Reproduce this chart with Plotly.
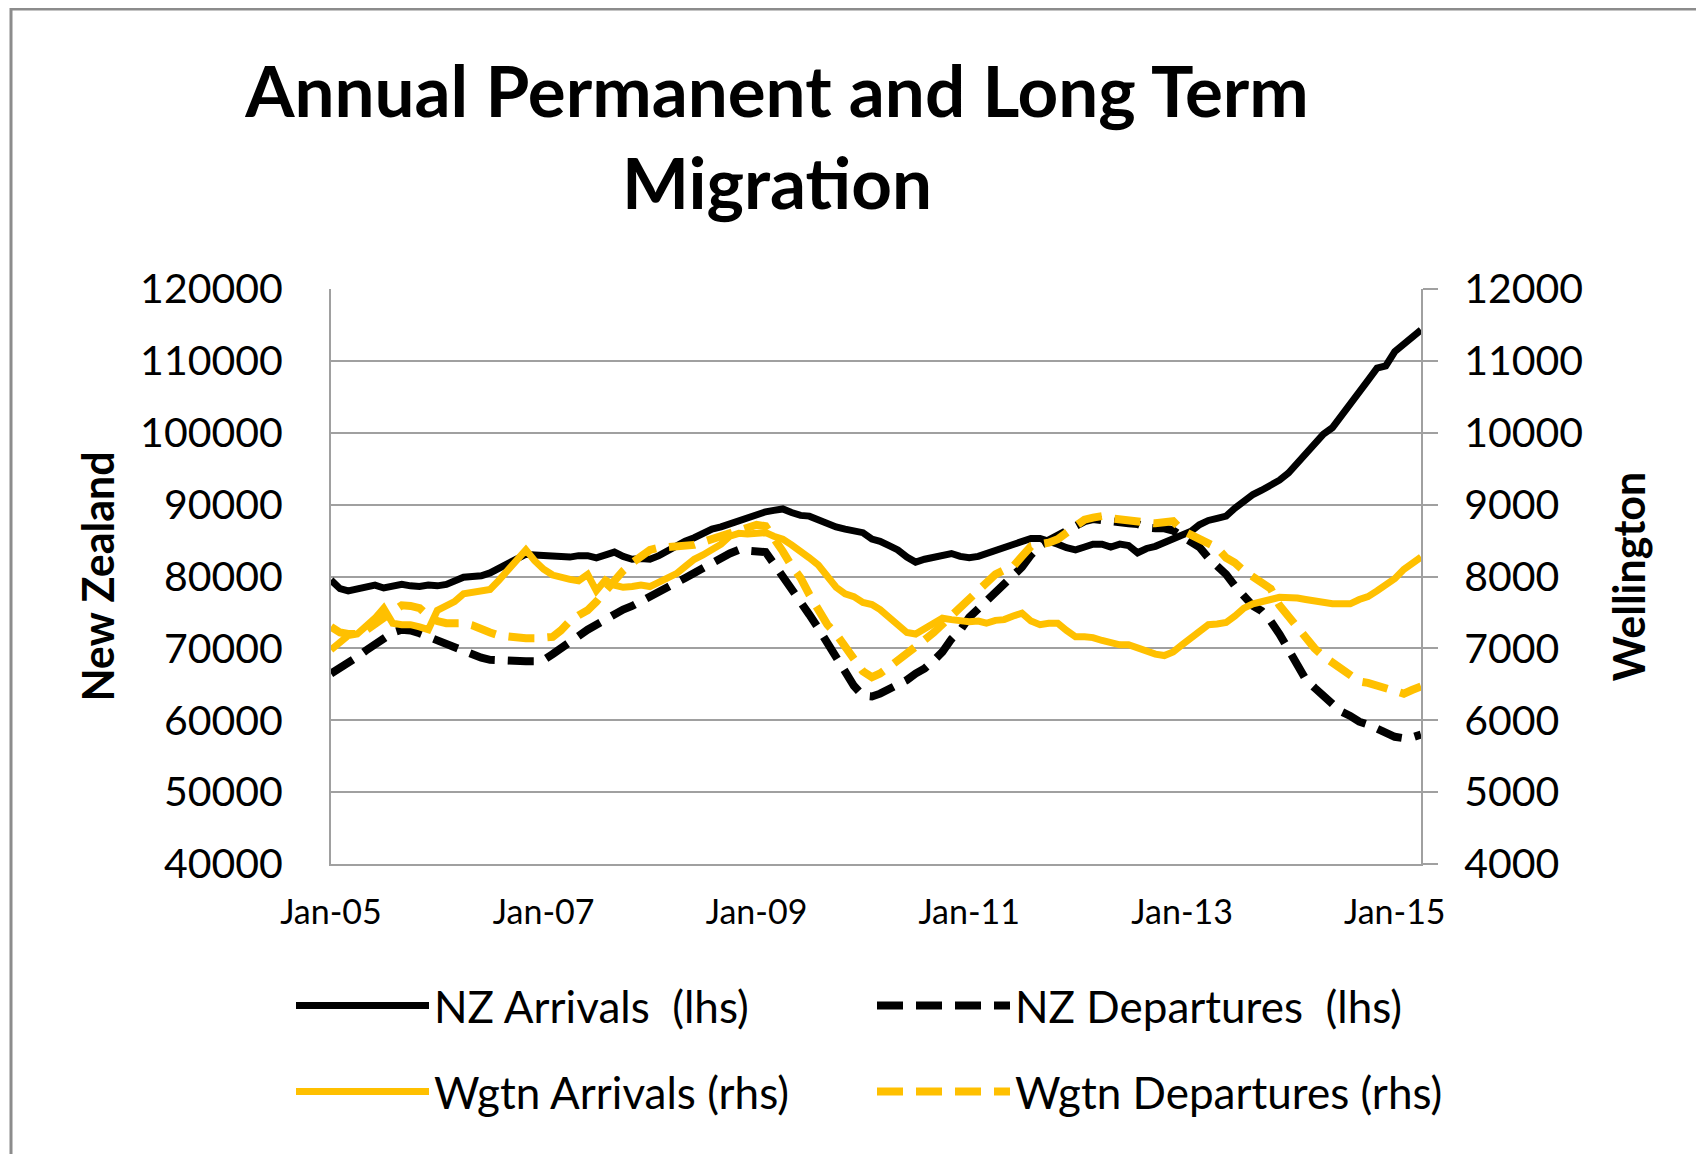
import pandas as pd
import plotly.graph_objects as go

# ---------------- data (monthly, Jan-2005 .. Apr-2015) ----------------
months = pd.date_range("2005-01-01", "2015-04-01", freq="MS")

nz_arrivals = [
    79500, 78300, 78000, 78300, 78600, 78800, 78400, 78700, 78900, 78700,
    78600, 78800, 78700, 78900, 79500, 79900, 80000, 80100, 80500, 81100,
    81800, 82400, 83100, 83000, 82900, 82800, 82800, 82700, 82900, 82900,
    82600, 83000, 83400, 82800, 82400, 82500, 82400, 82900, 83600, 84200,
    84900, 85400, 86100, 86600, 86900, 87300, 87700, 88200, 88700, 89000,
    89200, 89400, 88900, 88500, 88400, 87900, 87300, 86900, 86600, 86400,
    86100, 85200, 84900, 84300, 83700, 82700, 82000, 82400, 82700, 83000,
    83200, 82800, 82600, 82800, 83200, 83700, 84100, 84500, 84800, 85300,
    85300, 85000, 84500, 84000, 83700, 84100, 84500, 84500, 84100, 84500,
    84300, 83300, 83900, 84200, 84700, 85200, 85700, 86300, 87200, 87800,
    88100, 88400, 89500, 90600, 91400, 92000, 92700, 93400, 94400, 95800,
    97300, 98700, 99800, 100700, 102300, 104000, 105300, 107300, 109000, 109300,
    111300, 112300, 113400, 114300,
]

nz_departures = [
    66500, 67200, 68000, 68800, 69700, 70500, 71500, 72200, 72600, 72500,
    72100, 71600, 71300, 70800, 70200, 69600, 69200, 68700, 68400, 68300,
    68300, 68200, 68200, 68200, 68400, 69200, 70000, 71000, 71900, 72600,
    73300, 74100, 74900, 75400, 75900, 76500, 77300, 77900, 78400, 79000,
    79800, 80500, 81200, 81800, 82500, 83200, 83700, 83600, 83500, 83400,
    81800, 80000, 78700, 76600, 74700, 72800, 70700, 68500, 66500, 64800,
    63400, 63300, 63700, 64300, 64900, 65600, 66500, 67200, 68300, 69500,
    71300, 72500, 74300, 75500, 76800, 78000, 79000, 80200, 81300, 83000,
    84300, 85000, 85700, 86300, 87000, 87700, 88000, 87800, 87600, 87500,
    87400, 87300, 86800, 86700, 86700, 86400, 85700, 84800, 84100, 82600,
    81500, 80300, 78700, 77300, 75900, 75200, 73800, 72000, 70000, 67600,
    65700, 64500, 63300, 62300, 61200, 60600, 59800, 59400, 58800, 58300,
    57700, 57500, 57600, 58000,
]

wgtn_arrivals = [
    6980, 7100, 7180, 7200, 7300, 7420, 7560, 7350, 7330, 7330,
    7300, 7260, 7530, 7600, 7650, 7760, 7780, 7790, 7820, 7950,
    8100, 8220, 8370, 8220, 8100, 8020, 7980, 7960, 7940, 8030,
    7800, 7950, 7880, 7850, 7860, 7880, 7860, 7920, 7960, 8040,
    8140, 8240, 8300, 8380, 8450, 8560, 8600, 8590, 8600, 8610,
    8560, 8520, 8440, 8360, 8260, 8160, 8000, 7850, 7760, 7720,
    7640, 7610, 7540, 7430, 7300, 7220, 7200, 7280, 7360, 7420,
    7400, 7380, 7370, 7380, 7350, 7390, 7400, 7450, 7490, 7380,
    7330, 7350, 7350, 7250, 7160, 7160, 7150, 7110, 7080, 7050,
    7050, 7000, 6970, 6920, 6900, 6950, 7050, 7150, 7250, 7330,
    7340, 7360, 7450, 7560, 7620, 7640, 7680, 7710, 7710, 7700,
    7680, 7660, 7630, 7620, 7620, 7620, 7680, 7720, 7800, 7870,
    7970, 8100, 8180, 8270,
]

wgtn_departures = [
    7300, 7220, 7200, 7200, 7250, 7330, 7430, 7520, 7600, 7590,
    7560, 7450, 7380, 7350, 7350, 7350, 7320, 7260, 7220, 7180,
    7160, 7150, 7140, 7140, 7150, 7160, 7250, 7380, 7460, 7530,
    7650, 7800, 7950, 8080, 8190, 8280, 8370, 8400, 8410, 8420,
    8430, 8440, 8480, 8520, 8580, 8620, 8660, 8700, 8720, 8700,
    8550, 8350, 8150, 7980, 7750, 7560, 7330, 7200, 7010, 6820,
    6680, 6600, 6650, 6740, 6840, 6930, 7050, 7120, 7220, 7330,
    7450, 7580, 7700, 7810, 7920, 8030, 8090, 8140, 8280, 8420,
    8450, 8470, 8520, 8600, 8700, 8790, 8820, 8840, 8810, 8790,
    8780, 8770, 8750, 8740, 8760, 8770, 8640, 8570, 8510, 8440,
    8400, 8260, 8190, 8080, 7990, 7900, 7830, 7600, 7450, 7300,
    7130, 7000, 6890, 6800, 6700, 6620, 6540, 6520, 6480, 6460,
    6410, 6370, 6420, 6470,
]

left_ticks = [40000, 50000, 60000, 70000, 80000, 90000, 100000, 110000, 120000]
right_ticks = [4000, 5000, 6000, 7000, 8000, 9000, 10000, 11000, 12000]

BLACK = "#000000"
GOLD = "#FFC000"
GRID = "#A0A0A0"
DASH = "26px,13px"

fig = go.Figure()
fig.add_trace(go.Scatter(x=months, y=nz_arrivals, name="NZ Arrivals \u00a0(lhs)",
                         mode="lines", line=dict(color=BLACK, width=7),
                         legend="legend"))
fig.add_trace(go.Scatter(x=months, y=nz_departures, name="NZ Departures \u00a0(lhs)",
                         mode="lines", line=dict(color=BLACK, width=8, dash=DASH),
                         legend="legend"))
fig.add_trace(go.Scatter(x=months, y=wgtn_arrivals, name="Wgtn Arrivals (rhs)",
                         mode="lines", line=dict(color=GOLD, width=7),
                         yaxis="y2", legend="legend2"))
fig.add_trace(go.Scatter(x=months, y=wgtn_departures, name="Wgtn Departures (rhs)",
                         mode="lines", line=dict(color=GOLD, width=8, dash=DASH),
                         yaxis="y2", legend="legend2"))

# figure sits 8px inside the page (body margin); coords below are figure px
W, H = 1696, 1146
L, R, T, B = 323, 1413, 281, 856
pw, ph = R - L, B - T

def px(xp):
    return (xp - L) / pw

def py(yp):
    return (B - yp) / ph

legend_common = dict(
    orientation="h", xanchor="left", yanchor="middle",
    itemwidth=133, entrywidth=433, entrywidthmode="pixels",
    font=dict(family="Lato", size=44, color="#000000"),
    bgcolor="rgba(0,0,0,0)", traceorder="normal", itemclick=False,
)

fig.update_layout(
    width=W, height=H,
    paper_bgcolor="white", plot_bgcolor="white",
    margin=dict(l=L, r=W - R, t=T, b=H - B, autoexpand=False),
    title=dict(
        text="Annual Permanent and Long Term<br>Migration",
        font=dict(family="Lato", size=71, color="#000000", weight="bold"),
        x=769 / W, xanchor="center", xref="container",
        y=1 - 109 / H, yanchor="top", yref="container",
    ),
    xaxis=dict(
        type="date", range=[months[0], months[-1]],
        tick0="2005-01-01", dtick="M24", tickformat="%b-%y",
        showgrid=False, showline=True, linecolor=GRID, linewidth=2,
        ticks="", ticklabelstandoff=17,
        tickfont=dict(family="Lato", size=34, color="#000000"),
    ),
    yaxis=dict(
        range=[40000, 120000], tickvals=left_ticks, tickformat="d",
        showgrid=True, gridcolor=GRID, gridwidth=2,
        showline=True, linecolor=GRID, linewidth=2,
        zeroline=False, ticks="", ticklabelstandoff=38,
        tickfont=dict(family="Lato", size=41, color="#000000"),
        title=dict(text="New Zealand", standoff=12,
                   font=dict(family="Lato", size=43, color="#000000", weight="bold")),
    ),
    yaxis2=dict(
        range=[4000, 12000], tickvals=right_ticks, tickformat="d",
        overlaying="y", side="right", anchor="x",
        showgrid=False, showline=True, linecolor=GRID, linewidth=2,
        zeroline=False, ticks="outside", ticklen=15, tickcolor=GRID, tickwidth=2,
        ticklabelstandoff=18,
        tickfont=dict(family="Lato", size=41, color="#000000"),
        title=dict(text="Wellington", standoff=33,
                   font=dict(family="Lato", size=43, color="#000000", weight="bold")),
    ),
    legend=dict(x=px(283), y=py(998), **legend_common),
    legend2=dict(x=px(283), y=py(1084), **legend_common),
    shapes=[
        dict(type="rect", xref="paper", yref="paper",
             x0=px(3), x1=px(1760), y0=py(1200), y1=py(1),
             line=dict(color="#8C8C8C", width=3), fillcolor="rgba(0,0,0,0)",
             layer="below"),
    ],
    showlegend=True,
)

fig.write_html("out.html")
